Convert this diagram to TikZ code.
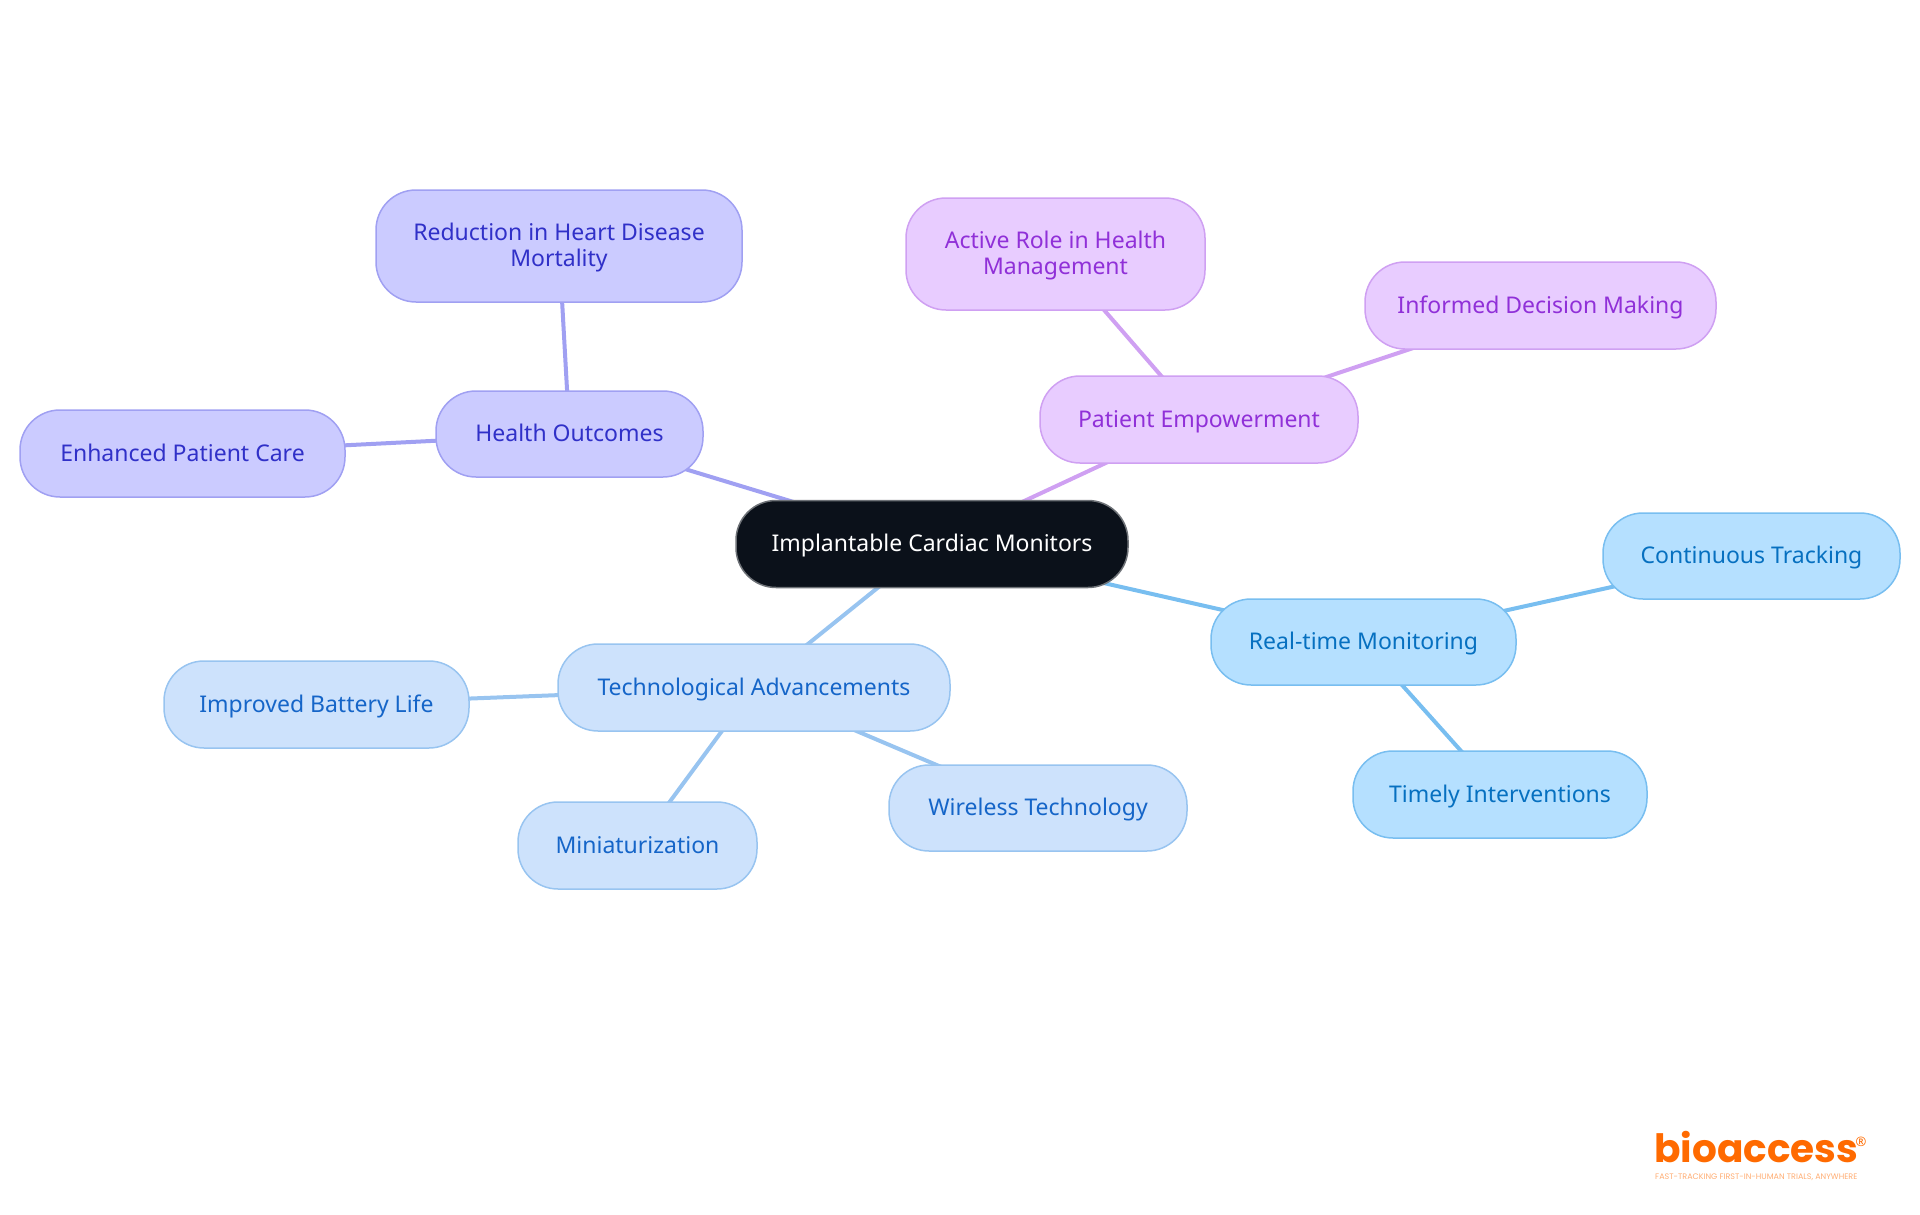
\documentclass[tikz,border=0pt]{standalone}
\usepackage{fontspec}
\setmainfont{Noto Sans}
\newfontfamily\logofont{Poppins}
\usetikzlibrary{backgrounds}
\definecolor{rootfill}{HTML}{0B111A}
\definecolor{rootline}{HTML}{6E7277}
\definecolor{healthfill}{HTML}{CBCBFF}
\definecolor{healthline}{HTML}{A0A0F2}
\definecolor{healthtext}{HTML}{3030C8}
\definecolor{powerfill}{HTML}{E8CCFF}
\definecolor{powerline}{HTML}{CFA0F2}
\definecolor{powertext}{HTML}{9030D8}
\definecolor{trackfill}{HTML}{B5E0FF}
\definecolor{trackline}{HTML}{78BEF0}
\definecolor{tracktext}{HTML}{0670C0}
\definecolor{techfill}{HTML}{CDE2FC}
\definecolor{techline}{HTML}{98C4F0}
\definecolor{techtext}{HTML}{1565C8}
\definecolor{logoorange}{HTML}{FF6A00}
\tikzset{
	mapbox/.style={rectangle,rounded corners=40pt,line width=1.5pt,align=center,font=\fontsize{23}{26}\selectfont,text height=19pt,text depth=4pt},
	twolines/.style={text height=,text depth=2pt},
	rootbox/.style={mapbox,fill=rootfill,draw=rootline,text=white,minimum width=392pt,minimum height=87pt},
	healthbox/.style={mapbox,fill=healthfill,draw=healthline,text=healthtext},
	powerbox/.style={mapbox,fill=powerfill,draw=powerline,text=powertext},
	trackbox/.style={mapbox,fill=trackfill,draw=trackline,text=tracktext},
	techbox/.style={mapbox,fill=techfill,draw=techline,text=techtext},
	link/.style={line width=4pt},
}
\begin{document}
\begin{tikzpicture}[x=1pt,y=-1pt]
	\useasboundingbox (0,0) rectangle (1920,1215);
	\node[rootbox] (root) at (932,544) {Implantable Cardiac Monitors};
	\node[healthbox,minimum width=267pt,minimum height=86pt] (health) at (569.5,434) {Health Outcomes};
	\node[healthbox,twolines,minimum width=366pt,minimum height=112pt] (mortality) at (559,246) {Reduction in Heart Disease\\Mortality};
	\node[healthbox,minimum width=325pt,minimum height=87pt] (care) at (182.5,453.5) {Enhanced Patient Care};
	\node[powerbox,minimum width=318pt,minimum height=87pt] (power) at (1199,419.5) {Patient Empowerment};
	\node[powerbox,twolines,minimum width=299pt,minimum height=112pt] (role) at (1055.5,254) {Active Role in Health\\Management};
	\node[powerbox,minimum width=351pt,minimum height=87pt] (decision) at (1540.5,305.5) {Informed Decision Making};
	\node[trackbox,minimum width=305pt,minimum height=86pt] (track) at (1363.5,642) {Real-time Monitoring};
	\node[trackbox,minimum width=297pt,minimum height=86pt] (tracking) at (1751.5,556) {Continuous Tracking};
	\node[trackbox,minimum width=294pt,minimum height=87pt] (timely) at (1500,794.5) {Timely Interventions};
	\node[techbox,minimum width=392pt,minimum height=87pt] (tech) at (754,687.5) {Technological Advancements};
	\node[techbox,minimum width=305pt,minimum height=87pt] (battery) at (316.5,704.5) {Improved Battery Life};
	\node[techbox,minimum width=239pt,minimum height=87pt] (mini) at (637.5,845.5) {Miniaturization};
	\node[techbox,minimum width=298pt,minimum height=86pt] (wireless) at (1038,808) {Wireless Technology};
	\begin{pgfonlayer}{background}
		\draw[link,healthline] (root.center) -- (health.center);
		\draw[link,healthline] (health.center) -- (mortality.center);
		\draw[link,healthline] (health.center) -- (care.center);
		\draw[link,powerline] (root.center) -- (power.center);
		\draw[link,powerline] (power.center) -- (role.center);
		\draw[link,powerline] (power.center) -- (decision.center);
		\draw[link,trackline] (root.center) -- (track.center);
		\draw[link,trackline] (track.center) -- (tracking.center);
		\draw[link,trackline] (track.center) -- (timely.center);
		\draw[link,techline] (root.center) -- (tech.center);
		\draw[link,techline] (tech.center) -- (battery.center);
		\draw[link,techline] (tech.center) -- (mini.center);
		\draw[link,techline] (tech.center) -- (wireless.center);
	\end{pgfonlayer}
	% logo
	\node[text=logoorange,inner sep=0pt,anchor=base west,font=\logofont\bfseries\fontsize{39}{39}\selectfont] (logo) at (1654,1162) {bioaccess};
	\node[text=logoorange,inner sep=0pt,font=\bfseries\fontsize{13}{13}\selectfont] (reg) at (1861,1142) {®};
	\node[text=logoorange!55,inner sep=0pt,anchor=base west,font=\logofont\fontsize{8}{8}\selectfont] (slogan) at (1655,1179) {FAST-TRACKING FIRST-IN-HUMAN TRIALS, ANYWHERE};
\end{tikzpicture}
\end{document}
